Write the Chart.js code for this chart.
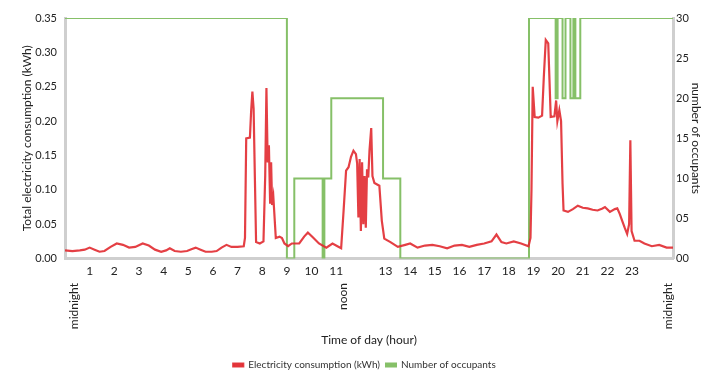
<!DOCTYPE html>
<html lang="en">
<head>
  <meta charset="UTF-8" />
  <title>Electricity consumption and occupants</title>
  <script src="https://cdn.jsdelivr.net/npm/chart.js"></script>
  <style>
    * {
      box-sizing: border-box;
      margin: 0;
      padding: 0;
    }

    body {
      background: #ffffff;
      width: 709px;
      height: 380px;
      overflow: hidden;
    }

    #chart {
      display: block;
    }
  </style>
</head>
<body>
  <canvas id="chart" width="709" height="380"></canvas>

  <script>
    // electricity consumption, time of day (hours) and kWh
    const elecHours = [
      0.0, 0.3, 0.6, 0.8, 1.0, 1.2, 1.4, 1.6, 1.85, 2.1, 2.35, 2.6, 2.85, 3.15, 3.4, 3.65, 3.9,
      4.1, 4.25, 4.45, 4.7, 4.95, 5.15, 5.3, 5.5, 5.7, 5.95, 6.15, 6.35, 6.55, 6.75, 7.0, 7.25,
      7.3, 7.35, 7.5, 7.55, 7.6, 7.65, 7.7, 7.75, 7.9, 8.05, 8.12, 8.17, 8.22, 8.27, 8.32, 8.36,
      8.4, 8.45, 8.55, 8.7, 8.8, 8.9, 9.05, 9.2, 9.5, 9.7, 9.85, 10.05, 10.3, 10.6, 10.85, 11.05,
      11.2, 11.3, 11.4, 11.5, 11.6, 11.7, 11.8, 11.85, 11.9, 11.95, 12.0, 12.05, 12.1, 12.15,
      12.2, 12.25, 12.3, 12.35, 12.42, 12.47, 12.55, 12.75, 12.85, 12.95, 13.2, 13.5, 13.8, 14.0,
      14.3, 14.6, 14.9, 15.2, 15.5, 15.8, 16.1, 16.4, 16.7, 17.0, 17.3, 17.5, 17.7, 17.9, 18.2,
      18.5, 18.8, 18.88, 18.92, 18.97, 19.05, 19.2, 19.35, 19.42, 19.5, 19.6, 19.65, 19.7, 19.85,
      19.92, 19.97, 20.05, 20.12, 20.18, 20.22, 20.4, 20.6, 20.8, 21.0, 21.2, 21.4, 21.6, 21.8,
      21.9, 22.1, 22.3, 22.4, 22.5, 22.6, 22.7, 22.8, 22.88, 22.93, 22.98, 23.1, 23.3, 23.5,
      23.8, 24.1, 24.4, 24.66
    ];
    const elecKwh = [
      0.012, 0.011, 0.012, 0.013, 0.016, 0.013, 0.010, 0.011, 0.017, 0.022, 0.020, 0.016, 0.017, 0.022, 0.019, 0.013, 0.010,
      0.012, 0.015, 0.011, 0.010, 0.011, 0.014, 0.016, 0.013, 0.010, 0.010, 0.011, 0.016, 0.020, 0.017, 0.017, 0.018,
      0.030, 0.175, 0.176, 0.215, 0.243, 0.218, 0.120, 0.024, 0.022, 0.025, 0.120, 0.248, 0.140, 0.165, 0.080, 0.140,
      0.078, 0.090, 0.030, 0.032, 0.030, 0.022, 0.018, 0.022, 0.022, 0.032, 0.038, 0.031, 0.022, 0.016, 0.022, 0.018,
      0.015, 0.070, 0.128, 0.133, 0.148, 0.157, 0.152, 0.138, 0.060, 0.145, 0.040, 0.140, 0.050, 0.120,
      0.045, 0.130, 0.118, 0.157, 0.190, 0.120, 0.110, 0.106, 0.055, 0.029, 0.024, 0.017, 0.020, 0.022,
      0.016, 0.019, 0.020, 0.018, 0.015, 0.019, 0.020, 0.017, 0.020, 0.022, 0.025, 0.035, 0.024, 0.022, 0.025,
      0.022, 0.018, 0.030, 0.100, 0.250, 0.206, 0.205, 0.208, 0.264, 0.318, 0.313, 0.260, 0.206, 0.207,
      0.230, 0.200, 0.216, 0.200, 0.109, 0.070, 0.068, 0.072, 0.077, 0.074, 0.073, 0.071, 0.070, 0.073,
      0.075, 0.068, 0.072, 0.073, 0.065, 0.055, 0.045, 0.036, 0.050, 0.172, 0.040, 0.026, 0.026, 0.022,
      0.018, 0.020, 0.016, 0.016
    ];

    // number of occupants: hour at which the count changes, and the new count
    const occHours = [0, 9.0, 9.3, 10.45, 10.52, 10.8, 12.9, 13.6, 18.82, 19.9, 19.98, 20.18, 20.3, 20.5, 20.62, 20.7, 20.9, 24.66];
    const occCount = [30, 0, 10, 0, 10, 20, 10, 0, 30, 20, 30, 20, 30, 20, 30, 20, 30, 30];

    // axis labels
    const hourTicks = [1, 2, 3, 4, 5, 6, 7, 8, 9, 10, 11, 13, 14, 15, 16, 17, 18, 19, 20, 21, 22, 23];
    const dayMarkHours = [0.35, 11.3, 24.45];
    const dayMarkLabels = ['midnight', 'noon', 'midnight'];

    const FONT = 'Lato, "Open Sans", sans-serif';
    const axisGrey = '#cfcfcf';

    const ctx = document.getElementById('chart').getContext('2d');
    const chart = new Chart(ctx, {
      type: 'line',
      data: {
        datasets: [
          {
            label: 'Electricity consumption (kWh)',
            data: elecHours.map((h, i) => ({ x: h, y: elecKwh[i] })),
            borderColor: 'rgba(225, 42, 48, 0.9)',
            backgroundColor: 'rgba(225, 42, 48, 0.9)',
            borderWidth: 2.2,
            pointRadius: 0,
            tension: 0,
            yAxisID: 'y',
            order: 1
          },
          {
            label: 'Number of occupants',
            data: occHours.map((h, i) => ({ x: h, y: occCount[i] })),
            borderColor: '#86c068',
            backgroundColor: '#86c068',
            borderWidth: 2,
            pointRadius: 0,
            stepped: true,
            yAxisID: 'y2',
            order: 2
          }
        ]
      },
      options: {
        responsive: false,
        animation: false,
        layout: { padding: { left: 20, right: 0, top: 18, bottom: 0 } },
        plugins: {
          tooltip: { enabled: false },
          legend: {
            position: 'bottom',
            labels: {
              boxWidth: 10,
              boxHeight: 3,
              padding: 6,
              color: '#333',
              font: { family: FONT, size: 10 }
            }
          }
        },
        scales: {
          x: {
            type: 'linear',
            min: 0,
            max: 24.66,
            grid: { display: false, drawTicks: false },
            border: { display: true, color: axisGrey, width: 3 },
            afterBuildTicks: axis => { axis.ticks = hourTicks.map(v => ({ value: v })); },
            afterFit: axis => { axis.paddingLeft = 0; axis.paddingRight = 0; },
            ticks: {
              autoSkip: false,
              maxRotation: 0,
              color: '#222',
              padding: 5,
              font: { family: FONT, size: 12 },
              callback: v => String(v)
            }
          },
          x2: {
            type: 'linear',
            position: 'bottom',
            min: 0,
            max: 24.66,
            grid: { display: false, drawTicks: false },
            border: { display: false },
            afterBuildTicks: axis => { axis.ticks = dayMarkHours.map(v => ({ value: v })); },
            afterFit: axis => { axis.paddingLeft = 0; axis.paddingRight = 0; axis.height = 71; },
            ticks: {
              autoSkip: false,
              minRotation: 90,
              maxRotation: 90,
              color: '#222',
              padding: 0,
              font: { family: FONT, size: 12 },
              callback: (v, i) => dayMarkLabels[i]
            },
            title: {
              display: true,
              text: 'Time of day (hour)',
              color: '#222',
              padding: { top: 0, bottom: 7 },
              font: { family: FONT, size: 12 }
            }
          },
          y: {
            position: 'left',
            min: 0,
            max: 0.35,
            grid: { display: false, drawTicks: false },
            border: { display: true, color: axisGrey, width: 3 },
            afterFit: axis => { axis.width = 45; },
            ticks: {
              stepSize: 0.05,
              color: '#222',
              padding: 8,
              font: { family: FONT, size: 11 },
              callback: v => v.toFixed(2)
            },
            title: {
              display: true,
              text: 'Total electricity consumption (kWh)',
              color: '#222',
              padding: { top: 0, bottom: 2 },
              font: { family: FONT, size: 12 }
            }
          },
          y2: {
            position: 'right',
            min: 0,
            max: 30,
            grid: { display: false, drawTicks: false },
            border: { display: true, color: axisGrey, width: 3 },
            afterFit: axis => { axis.width = 36; },
            ticks: {
              stepSize: 5,
              color: '#222',
              padding: 3,
              font: { family: FONT, size: 11 },
              callback: v => String(v).padStart(2, '0')
            },
            title: {
              display: true,
              text: 'number of occupants',
              color: '#222',
              padding: { top: 6, bottom: 0 },
              font: { family: FONT, size: 12 }
            }
          }
        }
      }
    });
  </script>
</body>
</html>
